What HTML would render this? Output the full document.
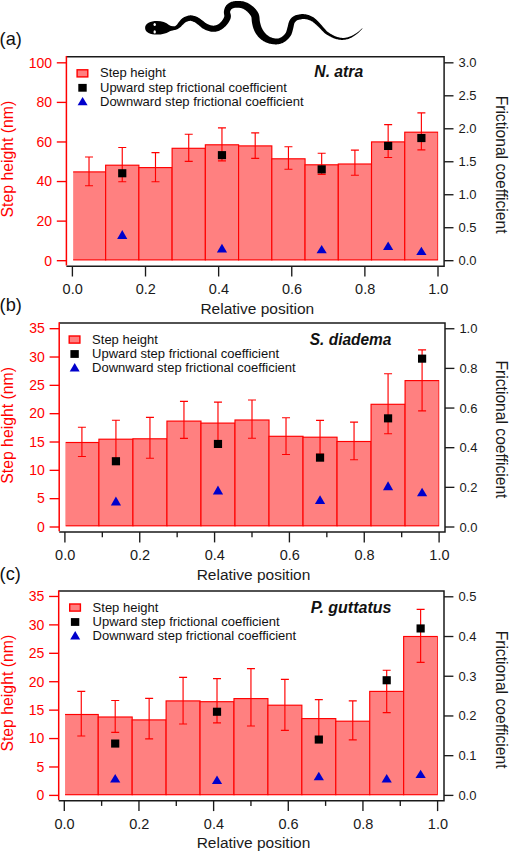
<!DOCTYPE html>
<html lang="en"><head><meta charset="utf-8"><title>Step height and frictional coefficient</title>
<style>html,body{margin:0;padding:0;background:#fff}svg{display:block}text{font-family:'Liberation Sans', sans-serif}</style>
</head><body>
<svg width="509" height="852" viewBox="0 0 509 852">
<rect width="509" height="852" fill="#fff"/>
<g id="snake">
<path d="M166.99 31.6 L167.17 31.54 L167.4 31.47 L167.68 31.38 L167.99 31.29 L168.33 31.18 L168.69 31.07 L169.05 30.97 L169.4 30.87 L169.73 30.78 L170.04 30.7 L170.31 30.63 L170.57 30.57 L170.83 30.52 L171.08 30.47 L171.33 30.42 L171.58 30.37 L171.83 30.33 L172.09 30.28 L172.36 30.24 L172.61 30.2 L172.85 30.16 L173.09 30.13 L173.38 30.11 L173.69 30.09 L174.04 30.07 L174.41 30.04 L174.81 30 L175.24 29.93 L175.69 29.82 L176.13 29.68 L176.56 29.52 L176.96 29.35 L177.36 29.16 L177.74 28.95 L178.12 28.74 L178.5 28.52 L178.86 28.29 L179.21 28.06 L179.55 27.82 L179.9 27.57 L180.25 27.28 L180.59 26.98 L180.9 26.68 L181.19 26.39 L181.47 26.11 L181.72 25.84 L181.97 25.59 L182.22 25.34 L182.46 25.11 L182.74 24.85 L183.08 24.52 L183.43 24.17 L183.76 23.83 L184.07 23.51 L184.37 23.21 L184.66 22.94 L184.94 22.7 L185.21 22.5 L185.48 22.32 L185.78 22.16 L186.16 21.98 L186.62 21.78 L187.1 21.58 L187.6 21.4 L188.11 21.23 L188.61 21.09 L189.1 20.98 L189.57 20.9 L189.98 20.86 L190.35 20.85 L190.69 20.87 L191.07 20.93 L191.48 21.02 L191.93 21.15 L192.39 21.3 L192.86 21.47 L193.35 21.67 L193.84 21.89 L194.32 22.11 L194.77 22.33 L195.14 22.52 L195.47 22.72 L195.8 22.93 L196.13 23.17 L196.48 23.44 L196.86 23.73 L197.25 24.05 L197.68 24.39 L198.15 24.76 L198.62 25.11 L199.03 25.44 L199.44 25.78 L199.88 26.16 L200.36 26.57 L200.87 27.01 L201.42 27.47 L202.01 27.94 L202.65 28.4 L203.35 28.84 L204.07 29.25 L204.78 29.6 L205.5 29.94 L206.25 30.25 L207.02 30.55 L207.81 30.83 L208.61 31.09 L209.42 31.32 L210.23 31.51 L211.05 31.67 L211.88 31.78 L212.69 31.84 L213.49 31.85 L214.27 31.82 L215.03 31.74 L215.77 31.63 L216.48 31.49 L217.18 31.32 L217.84 31.13 L218.48 30.92 L219.12 30.69 L219.77 30.42 L220.41 30.11 L221.02 29.78 L221.6 29.43 L222.16 29.05 L222.69 28.67 L223.19 28.28 L223.68 27.88 L224.14 27.49 L224.6 27.08 L225.08 26.64 L225.55 26.16 L226.01 25.68 L226.45 25.18 L226.88 24.68 L227.29 24.18 L227.68 23.67 L228.05 23.17 L228.4 22.67 L228.72 22.18 L229.01 21.72 L229.29 21.27 L229.56 20.79 L229.82 20.31 L230.07 19.79 L230.29 19.26 L230.49 18.7 L230.66 18.11 L230.79 17.5 L230.89 16.81 L230.91 16 L230.84 15.22 L230.71 14.54 L230.56 13.95 L230.42 13.44 L230.29 13 L230.19 12.64 L230.12 12.37 L230.09 12.2 L230.09 12.07 L230.12 11.84 L230.18 11.53 L230.26 11.22 L230.35 10.93 L230.46 10.65 L230.58 10.39 L230.7 10.15 L230.83 9.94 L230.96 9.76 L231.1 9.6 L231.25 9.43 L231.44 9.26 L231.64 9.09 L231.85 8.93 L232.08 8.78 L232.34 8.63 L232.61 8.49 L232.9 8.36 L233.2 8.24 L233.53 8.14 L233.88 8.04 L234.3 7.95 L234.76 7.87 L235.26 7.79 L235.79 7.74 L236.33 7.69 L236.88 7.67 L237.43 7.66 L237.96 7.67 L238.46 7.7 L238.95 7.74 L239.45 7.8 L239.95 7.88 L240.44 7.98 L240.93 8.09 L241.41 8.21 L241.88 8.35 L242.33 8.51 L242.76 8.67 L243.17 8.84 L243.55 9.03 L243.93 9.24 L244.33 9.47 L244.73 9.73 L245.14 10.01 L245.55 10.31 L245.96 10.62 L246.37 10.94 L246.76 11.26 L247.13 11.57 L247.46 11.86 L247.77 12.15 L248.06 12.44 L248.34 12.74 L248.62 13.04 L248.88 13.35 L249.14 13.66 L249.39 13.97 L249.63 14.29 L249.88 14.62 L250.13 14.97 L250.37 15.29 L250.57 15.58 L250.75 15.83 L250.89 16.06 L251.01 16.27 L251.11 16.47 L251.2 16.68 L251.29 16.9 L251.36 17.12 L251.42 17.35 L251.47 17.64 L251.52 18.03 L251.56 18.51 L251.6 19.05 L251.64 19.65 L251.69 20.31 L251.75 21.01 L251.84 21.76 L251.96 22.49 L252.08 23.15 L252.2 23.77 L252.33 24.41 L252.47 25.06 L252.62 25.72 L252.79 26.39 L252.98 27.07 L253.18 27.76 L253.41 28.44 L253.66 29.12 L253.92 29.77 L254.19 30.4 L254.48 31.02 L254.78 31.65 L255.11 32.27 L255.45 32.89 L255.81 33.5 L256.2 34.11 L256.61 34.7 L257.04 35.28 L257.48 35.84 L257.94 36.39 L258.42 36.93 L258.92 37.46 L259.44 37.99 L259.98 38.5 L260.54 38.99 L261.12 39.47 L261.72 39.93 L262.33 40.37 L262.94 40.77 L263.57 41.15 L264.21 41.51 L264.86 41.85 L265.52 42.17 L266.2 42.46 L266.88 42.74 L267.58 42.99 L268.28 43.22 L268.99 43.44 L269.72 43.63 L270.47 43.8 L271.23 43.95 L272 44.08 L272.77 44.19 L273.54 44.28 L274.31 44.35 L275.06 44.39 L275.8 44.41 L276.53 44.4 L277.24 44.36 L277.93 44.29 L278.6 44.19 L279.25 44.06 L279.87 43.91 L280.48 43.74 L281.05 43.55 L281.61 43.34 L282.14 43.13 L282.67 42.9 L283.22 42.64 L283.76 42.35 L284.29 42.04 L284.79 41.72 L285.28 41.38 L285.74 41.03 L286.19 40.68 L286.63 40.31 L287.05 39.95 L287.45 39.58 L287.84 39.21 L288.23 38.84 L288.62 38.44 L289.01 38.02 L289.4 37.58 L289.78 37.11 L290.16 36.61 L290.52 36.07 L290.87 35.5 L291.2 34.89 L291.51 34.22 L291.77 33.55 L292.01 32.87 L292.21 32.2 L292.4 31.54 L292.57 30.89 L292.73 30.25 L292.89 29.64 L293.04 29.05 L293.2 28.46 L293.37 27.8 L293.52 27.11 L293.65 26.44 L293.77 25.81 L293.89 25.22 L294 24.67 L294.12 24.17 L294.23 23.75 L294.35 23.4 L294.48 23.1 L294.64 22.79 L294.83 22.47 L295.03 22.18 L295.24 21.89 L295.47 21.63 L295.71 21.38 L295.96 21.14 L296.23 20.91 L296.52 20.7 L296.79 20.51 L297.06 20.37 L297.38 20.22 L297.77 20.08 L298.22 19.95 L298.7 19.82 L299.2 19.7 L299.71 19.6 L300.22 19.5 L300.71 19.4 L301.16 19.31 L301.54 19.23 L301.83 19.17 L302.08 19.12 L302.28 19.09 L302.46 19.07 L302.64 19.05 L302.83 19.04 L303.05 19.03 L303.32 19.04 L303.63 19.04 L303.98 19.06 L304.34 19.07 L304.7 19.1 L305.07 19.12 L305.45 19.16 L305.82 19.21 L306.2 19.26 L306.57 19.33 L306.94 19.4 L307.32 19.5 L307.72 19.61 L308.14 19.74 L308.59 19.89 L309.03 20.04 L309.49 20.22 L309.93 20.4 L310.38 20.59 L310.81 20.78 L311.22 20.99 L311.6 21.19 L311.96 21.4 L312.32 21.62 L312.67 21.86 L313.02 22.11 L313.38 22.39 L313.74 22.67 L314.1 22.97 L314.47 23.27 L314.84 23.59 L315.22 23.9 L315.58 24.21 L315.93 24.51 L316.29 24.83 L316.64 25.14 L316.99 25.47 L317.34 25.8 L317.7 26.14 L318.05 26.48 L318.41 26.82 L318.77 27.17 L319.12 27.52 L319.46 27.87 L319.81 28.23 L320.16 28.6 L320.52 28.97 L320.88 29.36 L321.25 29.74 L321.62 30.13 L322.01 30.51 L322.39 30.88 L322.75 31.23 L323.09 31.57 L323.43 31.91 L323.78 32.27 L324.16 32.64 L324.56 33.01 L325.01 33.4 L325.49 33.78 L326.03 34.17 L326.62 34.56 L327.26 34.96 L327.95 35.36 L328.69 35.78 L329.46 36.2 L330.27 36.62 L331.09 37.03 L331.93 37.42 L332.76 37.79 L333.58 38.13 L334.37 38.42 L335.14 38.68 L335.91 38.92 L336.67 39.13 L337.44 39.33 L338.2 39.5 L338.97 39.64 L339.75 39.75 L340.52 39.84 L341.3 39.89 L342.08 39.9 L342.85 39.88 L343.63 39.83 L344.4 39.75 L345.18 39.64 L345.95 39.51 L346.72 39.34 L347.49 39.14 L348.26 38.9 L349.02 38.64 L349.78 38.35 L350.55 38.01 L351.33 37.64 L352.1 37.22 L352.88 36.78 L353.64 36.31 L354.4 35.82 L355.13 35.32 L355.85 34.81 L356.54 34.31 L357.19 33.8 L357.85 33.27 L358.5 32.68 L359.15 32.06 L359.77 31.43 L360.37 30.81 L360.94 30.21 L361.45 29.65 L361.91 29.15 L362.29 28.73 L362.6 28.41 L362.4 28.19 L362.06 28.48 L361.63 28.87 L361.13 29.32 L360.56 29.83 L359.95 30.37 L359.3 30.93 L358.63 31.49 L357.95 32.03 L357.27 32.54 L356.61 33 L355.93 33.43 L355.22 33.87 L354.49 34.32 L353.74 34.75 L352.98 35.17 L352.21 35.57 L351.45 35.94 L350.69 36.28 L349.95 36.59 L349.22 36.85 L348.5 37.08 L347.78 37.28 L347.06 37.45 L346.35 37.6 L345.64 37.72 L344.93 37.81 L344.22 37.88 L343.52 37.91 L342.82 37.92 L342.12 37.9 L341.43 37.85 L340.75 37.77 L340.07 37.66 L339.38 37.52 L338.7 37.35 L338.01 37.16 L337.32 36.95 L336.62 36.71 L335.92 36.45 L335.23 36.18 L334.52 35.88 L333.78 35.53 L333.03 35.15 L332.26 34.75 L331.5 34.33 L330.76 33.89 L330.04 33.46 L329.37 33.03 L328.74 32.62 L328.18 32.24 L327.7 31.88 L327.28 31.54 L326.91 31.21 L326.57 30.88 L326.25 30.55 L325.94 30.21 L325.63 29.86 L325.31 29.49 L324.97 29.1 L324.61 28.72 L324.26 28.34 L323.93 27.97 L323.6 27.59 L323.27 27.2 L322.93 26.81 L322.6 26.42 L322.27 26.02 L321.92 25.62 L321.58 25.22 L321.23 24.83 L320.89 24.45 L320.56 24.07 L320.22 23.7 L319.89 23.32 L319.55 22.94 L319.21 22.57 L318.86 22.2 L318.5 21.83 L318.14 21.46 L317.78 21.1 L317.43 20.75 L317.08 20.4 L316.72 20.05 L316.35 19.7 L315.97 19.34 L315.57 18.98 L315.16 18.63 L314.73 18.28 L314.27 17.94 L313.8 17.61 L313.31 17.3 L312.81 17 L312.3 16.72 L311.79 16.44 L311.26 16.18 L310.74 15.94 L310.22 15.71 L309.7 15.49 L309.19 15.29 L308.68 15.1 L308.17 14.93 L307.65 14.79 L307.14 14.66 L306.64 14.55 L306.15 14.45 L305.68 14.37 L305.22 14.3 L304.78 14.25 L304.36 14.2 L303.97 14.16 L303.59 14.12 L303.23 14.09 L302.88 14.07 L302.52 14.06 L302.16 14.07 L301.8 14.09 L301.42 14.12 L301.04 14.17 L300.64 14.23 L300.24 14.29 L299.8 14.36 L299.32 14.44 L298.77 14.53 L298.18 14.63 L297.55 14.75 L296.9 14.9 L296.23 15.08 L295.55 15.3 L294.87 15.57 L294.21 15.89 L293.63 16.22 L293.09 16.57 L292.57 16.96 L292.06 17.37 L291.58 17.81 L291.12 18.28 L290.68 18.79 L290.27 19.32 L289.89 19.88 L289.52 20.5 L289.18 21.2 L288.89 21.92 L288.66 22.63 L288.46 23.32 L288.3 24 L288.15 24.65 L288.02 25.27 L287.88 25.86 L287.75 26.4 L287.6 26.94 L287.43 27.54 L287.26 28.19 L287.1 28.82 L286.94 29.43 L286.79 30.01 L286.63 30.57 L286.48 31.08 L286.32 31.55 L286.16 31.96 L286 32.31 L285.82 32.65 L285.63 32.98 L285.43 33.3 L285.21 33.61 L284.98 33.91 L284.73 34.21 L284.46 34.51 L284.17 34.81 L283.87 35.12 L283.55 35.42 L283.23 35.72 L282.92 36 L282.6 36.27 L282.28 36.52 L281.96 36.76 L281.64 36.98 L281.32 37.19 L280.99 37.37 L280.67 37.54 L280.33 37.7 L279.95 37.86 L279.57 38.02 L279.19 38.15 L278.81 38.27 L278.44 38.38 L278.06 38.47 L277.68 38.53 L277.29 38.58 L276.89 38.6 L276.47 38.6 L276.01 38.57 L275.5 38.52 L274.95 38.44 L274.38 38.34 L273.79 38.22 L273.2 38.08 L272.62 37.92 L272.05 37.74 L271.51 37.56 L271.01 37.36 L270.53 37.16 L270.06 36.93 L269.6 36.69 L269.14 36.43 L268.7 36.16 L268.27 35.87 L267.85 35.58 L267.45 35.27 L267.05 34.95 L266.67 34.63 L266.31 34.3 L265.96 33.96 L265.61 33.59 L265.26 33.21 L264.92 32.81 L264.59 32.41 L264.27 31.99 L263.95 31.56 L263.65 31.14 L263.36 30.72 L263.1 30.31 L262.85 29.9 L262.6 29.47 L262.37 29.04 L262.14 28.6 L261.93 28.15 L261.72 27.69 L261.51 27.23 L261.32 26.75 L261.14 26.28 L260.98 25.82 L260.83 25.36 L260.68 24.87 L260.55 24.37 L260.41 23.84 L260.29 23.31 L260.17 22.76 L260.05 22.2 L259.94 21.63 L259.84 21.11 L259.77 20.65 L259.71 20.19 L259.67 19.67 L259.63 19.1 L259.59 18.49 L259.54 17.84 L259.47 17.15 L259.38 16.42 L259.24 15.65 L259.04 14.88 L258.8 14.18 L258.55 13.54 L258.27 12.94 L257.97 12.38 L257.66 11.86 L257.35 11.38 L257.03 10.95 L256.72 10.54 L256.42 10.16 L256.12 9.78 L255.79 9.37 L255.42 8.95 L255.05 8.52 L254.65 8.1 L254.23 7.67 L253.8 7.25 L253.34 6.83 L252.87 6.42 L252.37 6.01 L251.87 5.63 L251.37 5.26 L250.85 4.9 L250.31 4.53 L249.75 4.16 L249.16 3.79 L248.54 3.43 L247.9 3.08 L247.23 2.74 L246.54 2.43 L245.83 2.16 L245.13 1.92 L244.43 1.71 L243.73 1.53 L243.02 1.37 L242.31 1.24 L241.59 1.13 L240.88 1.04 L240.16 0.97 L239.45 0.93 L238.74 0.9 L238.02 0.9 L237.29 0.92 L236.55 0.95 L235.8 1.01 L235.06 1.09 L234.32 1.19 L233.59 1.32 L232.87 1.47 L232.16 1.65 L231.47 1.86 L230.82 2.11 L230.19 2.38 L229.59 2.69 L229.01 3.02 L228.45 3.39 L227.93 3.78 L227.43 4.19 L226.96 4.63 L226.52 5.1 L226.1 5.6 L225.71 6.14 L225.36 6.72 L225.06 7.3 L224.8 7.9 L224.58 8.49 L224.39 9.09 L224.23 9.68 L224.11 10.28 L224 10.87 L223.91 11.53 L223.87 12.3 L223.91 13.07 L223.99 13.75 L224.09 14.36 L224.18 14.89 L224.26 15.34 L224.31 15.71 L224.33 15.97 L224.33 16.11 L224.31 16.19 L224.29 16.35 L224.24 16.57 L224.19 16.79 L224.13 17.01 L224.04 17.26 L223.94 17.52 L223.81 17.81 L223.66 18.12 L223.48 18.46 L223.28 18.82 L223.06 19.18 L222.82 19.56 L222.56 19.95 L222.28 20.35 L221.98 20.74 L221.67 21.14 L221.36 21.51 L221.04 21.87 L220.72 22.21 L220.4 22.52 L220.05 22.84 L219.69 23.15 L219.34 23.44 L218.98 23.72 L218.63 23.97 L218.28 24.2 L217.93 24.41 L217.59 24.6 L217.25 24.76 L216.88 24.91 L216.47 25.06 L216.03 25.2 L215.59 25.32 L215.15 25.43 L214.7 25.52 L214.26 25.59 L213.82 25.63 L213.39 25.65 L212.95 25.65 L212.52 25.62 L212.06 25.55 L211.55 25.45 L211 25.32 L210.41 25.15 L209.81 24.95 L209.2 24.73 L208.59 24.5 L208 24.25 L207.44 23.99 L206.93 23.75 L206.5 23.52 L206.08 23.26 L205.65 22.97 L205.2 22.64 L204.74 22.29 L204.27 21.9 L203.77 21.5 L203.26 21.09 L202.72 20.67 L202.18 20.29 L201.72 19.96 L201.31 19.66 L200.88 19.34 L200.45 19.02 L199.99 18.69 L199.51 18.35 L198.99 18.01 L198.44 17.68 L197.84 17.36 L197.23 17.07 L196.65 16.83 L196.05 16.59 L195.43 16.35 L194.77 16.12 L194.09 15.9 L193.37 15.71 L192.63 15.55 L191.86 15.43 L191.07 15.36 L190.25 15.35 L189.44 15.41 L188.65 15.54 L187.89 15.71 L187.14 15.91 L186.42 16.15 L185.72 16.42 L185.05 16.7 L184.41 17 L183.81 17.31 L183.22 17.64 L182.63 18.02 L182.06 18.45 L181.56 18.89 L181.12 19.33 L180.72 19.76 L180.37 20.18 L180.05 20.57 L179.77 20.93 L179.51 21.24 L179.26 21.55 L178.96 21.9 L178.67 22.27 L178.41 22.62 L178.18 22.95 L177.97 23.25 L177.78 23.53 L177.61 23.79 L177.44 24.02 L177.28 24.23 L177.1 24.43 L176.89 24.66 L176.65 24.9 L176.42 25.13 L176.18 25.36 L175.94 25.57 L175.7 25.77 L175.48 25.94 L175.25 26.1 L175.05 26.22 L174.87 26.32 L174.71 26.37 L174.54 26.42 L174.35 26.45 L174.14 26.46 L173.9 26.46 L173.64 26.46 L173.35 26.44 L173.04 26.43 L172.71 26.41 L172.39 26.4 L172.11 26.4 L171.86 26.38 L171.63 26.37 L171.4 26.35 L171.17 26.32 L170.95 26.29 L170.72 26.25 L170.47 26.21 L170.22 26.16 L169.96 26.1 L169.68 26.03 L169.37 25.94 L169.04 25.85 L168.7 25.74 L168.35 25.63 L168.02 25.52 L167.71 25.42 L167.43 25.33 L167.19 25.26 L167.01 25.2Z" fill="#000"/>
<path d="M145.1 28C145.1 23.6 150.4 21.1 157 21.1C162 21.1 166 22.6 169 24.9C171 26.2 172.6 26.6 174.6 26.6L174.6 30C172.6 30.2 171 30.7 169 31.7C166 33.4 162 34.6 157 34.6C150.4 34.6 145.1 32.4 145.1 28Z" fill="#000"/>
<ellipse cx="154.7" cy="24.5" rx="1.2" ry="1.55" fill="#fff"/>
<ellipse cx="154.7" cy="31.9" rx="1.2" ry="1.55" fill="#fff"/>
</g>
<g>
<clipPath id="clipa"><rect x="73.15" y="56.7" width="365.05" height="209.5"/></clipPath>
<g clip-path="url(#clipa)">
<rect x="72.4" y="171.9" width="33.24" height="88" fill="#ff8080" stroke="#ff0000" stroke-width="1.15"/>
<rect x="105.64" y="165.2" width="33.24" height="94.7" fill="#ff8080" stroke="#ff0000" stroke-width="1.15"/>
<rect x="138.87" y="167.6" width="33.24" height="92.3" fill="#ff8080" stroke="#ff0000" stroke-width="1.15"/>
<rect x="172.11" y="148.3" width="33.24" height="111.6" fill="#ff8080" stroke="#ff0000" stroke-width="1.15"/>
<rect x="205.35" y="144.8" width="33.24" height="115.1" fill="#ff8080" stroke="#ff0000" stroke-width="1.15"/>
<rect x="238.58" y="145.9" width="33.24" height="114" fill="#ff8080" stroke="#ff0000" stroke-width="1.15"/>
<rect x="271.82" y="158.8" width="33.24" height="101.1" fill="#ff8080" stroke="#ff0000" stroke-width="1.15"/>
<rect x="305.05" y="164.8" width="33.24" height="95.1" fill="#ff8080" stroke="#ff0000" stroke-width="1.15"/>
<rect x="338.29" y="164" width="33.24" height="95.9" fill="#ff8080" stroke="#ff0000" stroke-width="1.15"/>
<rect x="371.53" y="141.9" width="33.24" height="118" fill="#ff8080" stroke="#ff0000" stroke-width="1.15"/>
<rect x="404.76" y="132.2" width="33.24" height="127.7" fill="#ff8080" stroke="#ff0000" stroke-width="1.15"/>
</g>
<path d="M89.02 157V185.7M85.02 157H93.02M85.02 185.7H93.02" fill="none" stroke="#ff0000" stroke-width="1.15"/>
<path d="M122.25 147.5V181.7M118.25 147.5H126.25M118.25 181.7H126.25" fill="none" stroke="#ff0000" stroke-width="1.15"/>
<path d="M155.49 152.6V181.7M151.49 152.6H159.49M151.49 181.7H159.49" fill="none" stroke="#ff0000" stroke-width="1.15"/>
<path d="M188.73 134.2V161.3M184.73 134.2H192.73M184.73 161.3H192.73" fill="none" stroke="#ff0000" stroke-width="1.15"/>
<path d="M221.96 127.9V160.9M217.96 127.9H225.96M217.96 160.9H225.96" fill="none" stroke="#ff0000" stroke-width="1.15"/>
<path d="M255.2 132.8V158.4M251.2 132.8H259.2M251.2 158.4H259.2" fill="none" stroke="#ff0000" stroke-width="1.15"/>
<path d="M288.44 146.7V169.2M284.44 146.7H292.44M284.44 169.2H292.44" fill="none" stroke="#ff0000" stroke-width="1.15"/>
<path d="M321.67 153.2V174.3M317.67 153.2H325.67M317.67 174.3H325.67" fill="none" stroke="#ff0000" stroke-width="1.15"/>
<path d="M354.91 150.1V175.2M350.91 150.1H358.91M350.91 175.2H358.91" fill="none" stroke="#ff0000" stroke-width="1.15"/>
<path d="M388.15 124.6V157.5M384.15 124.6H392.15M384.15 157.5H392.15" fill="none" stroke="#ff0000" stroke-width="1.15"/>
<path d="M421.38 112.8V149.8M417.38 112.8H425.38M417.38 149.8H425.38" fill="none" stroke="#ff0000" stroke-width="1.15"/>
<path d="M122.25 230L127.35 239L117.15 239Z" fill="#0000cc"/>
<path d="M221.96 243.8L227.06 252.5L216.86 252.5Z" fill="#0000cc"/>
<path d="M321.67 244.9L326.77 253.2L316.57 253.2Z" fill="#0000cc"/>
<path d="M388.15 241.4L393.25 249.9L383.05 249.9Z" fill="#0000cc"/>
<path d="M421.38 246.8L426.48 255.1L416.28 255.1Z" fill="#0000cc"/>
<rect x="118.15" y="169.2" width="8.2" height="8.1" fill="#000"/>
<rect x="217.86" y="151.1" width="8.2" height="8.1" fill="#000"/>
<rect x="317.57" y="165.3" width="8.2" height="8.1" fill="#000"/>
<rect x="384.05" y="141.9" width="8.2" height="8.1" fill="#000"/>
<rect x="417.28" y="134" width="8.2" height="8.1" fill="#000"/>
<path d="M66.4 56.7H444.1V266.2H66.4" fill="none" stroke="#1a1a1a" stroke-width="1.5" stroke-linejoin="miter"/>
<path d="M66.4 55.95V265.45" fill="none" stroke="#ff0000" stroke-width="1.5"/>
<path d="M56.8 260.7H66.4" stroke="#ff0000" stroke-width="1.35"/>
<text x="52" y="265.5" text-anchor="end" font-size="14" fill="#ff0000">0</text>
<path d="M56.8 221.12H66.4" stroke="#ff0000" stroke-width="1.35"/>
<text x="52" y="225.93" text-anchor="end" font-size="14" fill="#ff0000">20</text>
<path d="M56.8 181.55H66.4" stroke="#ff0000" stroke-width="1.35"/>
<text x="52" y="186.35" text-anchor="end" font-size="14" fill="#ff0000">40</text>
<path d="M56.8 141.97H66.4" stroke="#ff0000" stroke-width="1.35"/>
<text x="52" y="146.77" text-anchor="end" font-size="14" fill="#ff0000">60</text>
<path d="M56.8 102.4H66.4" stroke="#ff0000" stroke-width="1.35"/>
<text x="52" y="107.2" text-anchor="end" font-size="14" fill="#ff0000">80</text>
<path d="M56.8 62.82H66.4" stroke="#ff0000" stroke-width="1.35"/>
<text x="52" y="67.62" text-anchor="end" font-size="14" fill="#ff0000">100</text>
<path d="M444.1 260.7H453.5" stroke="#1a1a1a" stroke-width="1.35"/>
<text x="458.5" y="265.2" font-size="13" fill="#1a1a1a">0.0</text>
<path d="M444.1 227.72H453.5" stroke="#1a1a1a" stroke-width="1.35"/>
<text x="458.5" y="232.22" font-size="13" fill="#1a1a1a">0.5</text>
<path d="M444.1 194.74H453.5" stroke="#1a1a1a" stroke-width="1.35"/>
<text x="458.5" y="199.24" font-size="13" fill="#1a1a1a">1.0</text>
<path d="M444.1 161.76H453.5" stroke="#1a1a1a" stroke-width="1.35"/>
<text x="458.5" y="166.26" font-size="13" fill="#1a1a1a">1.5</text>
<path d="M444.1 128.78H453.5" stroke="#1a1a1a" stroke-width="1.35"/>
<text x="458.5" y="133.28" font-size="13" fill="#1a1a1a">2.0</text>
<path d="M444.1 95.8H453.5" stroke="#1a1a1a" stroke-width="1.35"/>
<text x="458.5" y="100.3" font-size="13" fill="#1a1a1a">2.5</text>
<path d="M444.1 62.82H453.5" stroke="#1a1a1a" stroke-width="1.35"/>
<text x="458.5" y="67.32" font-size="13" fill="#1a1a1a">3.0</text>
<path d="M72.4 266.2V276.5" stroke="#1a1a1a" stroke-width="1.35"/>
<text x="72.7" y="294.2" text-anchor="middle" font-size="14.5" fill="#1a1a1a">0.0</text>
<path d="M145.52 266.2V276.5" stroke="#1a1a1a" stroke-width="1.35"/>
<text x="145.82" y="294.2" text-anchor="middle" font-size="14.5" fill="#1a1a1a">0.2</text>
<path d="M218.64 266.2V276.5" stroke="#1a1a1a" stroke-width="1.35"/>
<text x="218.94" y="294.2" text-anchor="middle" font-size="14.5" fill="#1a1a1a">0.4</text>
<path d="M291.76 266.2V276.5" stroke="#1a1a1a" stroke-width="1.35"/>
<text x="292.06" y="294.2" text-anchor="middle" font-size="14.5" fill="#1a1a1a">0.6</text>
<path d="M364.88 266.2V276.5" stroke="#1a1a1a" stroke-width="1.35"/>
<text x="365.18" y="294.2" text-anchor="middle" font-size="14.5" fill="#1a1a1a">0.8</text>
<path d="M438 266.2V276.5" stroke="#1a1a1a" stroke-width="1.35"/>
<text x="438.3" y="294.2" text-anchor="middle" font-size="14.5" fill="#1a1a1a">1.0</text>
<rect x="77.1" y="69.8" width="10.7" height="7.1" fill="#ff8080" stroke="#ff0000" stroke-width="1.4"/>
<rect x="78.3" y="83.9" width="8.4" height="7.8" fill="#000"/>
<path d="M82.6 96.9L87.6 105.2L77.6 105.2Z" fill="#0000cc"/>
<text x="100" y="77.4" font-size="13" fill="#111">Step height</text>
<text x="100" y="91.7" font-size="13" fill="#111">Upward step frictional coefficient</text>
<text x="100" y="106" font-size="13" fill="#111">Downward step frictional coefficient</text>
<text x="314.3" y="77.4" font-size="15.8" font-weight="bold" font-style="italic" fill="#111" textLength="48.9" lengthAdjust="spacingAndGlyphs">N. atra</text>
<text transform="translate(12.7 159.1) rotate(-90)" text-anchor="middle" font-size="15.8" fill="#ff0000">Step height (nm)</text>
<text transform="translate(496.2 164.6) rotate(90)" text-anchor="middle" font-size="15.65" fill="#1a1a1a">Frictional coefficient</text>
<text x="-0.4" y="45.4" font-size="18.2" fill="#111">(a)</text>
</g>
<g>
<clipPath id="clipb"><rect x="65.65" y="322.9" width="373.65" height="209.2"/></clipPath>
<g clip-path="url(#clipb)">
<rect x="64.9" y="442.5" width="34.02" height="83.3" fill="#ff8080" stroke="#ff0000" stroke-width="1.15"/>
<rect x="98.92" y="439.2" width="34.02" height="86.6" fill="#ff8080" stroke="#ff0000" stroke-width="1.15"/>
<rect x="132.94" y="438.8" width="34.02" height="87" fill="#ff8080" stroke="#ff0000" stroke-width="1.15"/>
<rect x="166.95" y="421.1" width="34.02" height="104.7" fill="#ff8080" stroke="#ff0000" stroke-width="1.15"/>
<rect x="200.97" y="423.1" width="34.02" height="102.7" fill="#ff8080" stroke="#ff0000" stroke-width="1.15"/>
<rect x="234.99" y="420" width="34.02" height="105.8" fill="#ff8080" stroke="#ff0000" stroke-width="1.15"/>
<rect x="269.01" y="436.3" width="34.02" height="89.5" fill="#ff8080" stroke="#ff0000" stroke-width="1.15"/>
<rect x="303.03" y="437.2" width="34.02" height="88.6" fill="#ff8080" stroke="#ff0000" stroke-width="1.15"/>
<rect x="337.05" y="441.5" width="34.02" height="84.3" fill="#ff8080" stroke="#ff0000" stroke-width="1.15"/>
<rect x="371.06" y="404.3" width="34.02" height="121.5" fill="#ff8080" stroke="#ff0000" stroke-width="1.15"/>
<rect x="405.08" y="380.6" width="34.02" height="145.2" fill="#ff8080" stroke="#ff0000" stroke-width="1.15"/>
</g>
<path d="M81.91 427.2V456.5M77.91 427.2H85.91M77.91 456.5H85.91" fill="none" stroke="#ff0000" stroke-width="1.15"/>
<path d="M115.93 420.2V458.2M111.93 420.2H119.93M111.93 458.2H119.93" fill="none" stroke="#ff0000" stroke-width="1.15"/>
<path d="M149.95 417.3V458.2M145.95 417.3H153.95M145.95 458.2H153.95" fill="none" stroke="#ff0000" stroke-width="1.15"/>
<path d="M183.96 401.3V438.4M179.96 401.3H187.96M179.96 438.4H187.96" fill="none" stroke="#ff0000" stroke-width="1.15"/>
<path d="M217.98 402.1V444.6M213.98 402.1H221.98M213.98 444.6H221.98" fill="none" stroke="#ff0000" stroke-width="1.15"/>
<path d="M252 400V438.2M248 400H256M248 438.2H256" fill="none" stroke="#ff0000" stroke-width="1.15"/>
<path d="M286.02 417.7V454.5M282.02 417.7H290.02M282.02 454.5H290.02" fill="none" stroke="#ff0000" stroke-width="1.15"/>
<path d="M320.04 420.3V454M316.04 420.3H324.04M316.04 454H324.04" fill="none" stroke="#ff0000" stroke-width="1.15"/>
<path d="M354.05 422.1V459.7M350.05 422.1H358.05M350.05 459.7H358.05" fill="none" stroke="#ff0000" stroke-width="1.15"/>
<path d="M388.07 373.7V433.7M384.07 373.7H392.07M384.07 433.7H392.07" fill="none" stroke="#ff0000" stroke-width="1.15"/>
<path d="M422.09 349.9V410.8M418.09 349.9H426.09M418.09 410.8H426.09" fill="none" stroke="#ff0000" stroke-width="1.15"/>
<path d="M115.93 496.6L121.03 505.5L110.83 505.5Z" fill="#0000cc"/>
<path d="M217.98 485.4L223.08 494.4L212.88 494.4Z" fill="#0000cc"/>
<path d="M320.04 495.2L325.14 504.1L314.94 504.1Z" fill="#0000cc"/>
<path d="M388.07 481.3L393.17 490.2L382.97 490.2Z" fill="#0000cc"/>
<path d="M422.09 487.8L427.19 496.3L416.99 496.3Z" fill="#0000cc"/>
<rect x="111.83" y="457.2" width="8.2" height="8.1" fill="#000"/>
<rect x="213.88" y="439.9" width="8.2" height="8.1" fill="#000"/>
<rect x="315.94" y="453.6" width="8.2" height="8.1" fill="#000"/>
<rect x="383.97" y="414.3" width="8.2" height="8.1" fill="#000"/>
<rect x="417.99" y="354.6" width="8.2" height="8.1" fill="#000"/>
<path d="M59.2 322.9H445V532.1H59.2" fill="none" stroke="#1a1a1a" stroke-width="1.5" stroke-linejoin="miter"/>
<path d="M59.2 322.15V531.35" fill="none" stroke="#ff0000" stroke-width="1.5"/>
<path d="M49.6 527H59.2" stroke="#ff0000" stroke-width="1.35"/>
<text x="44.8" y="531.8" text-anchor="end" font-size="14" fill="#ff0000">0</text>
<path d="M49.6 498.67H59.2" stroke="#ff0000" stroke-width="1.35"/>
<text x="44.8" y="503.47" text-anchor="end" font-size="14" fill="#ff0000">5</text>
<path d="M49.6 470.34H59.2" stroke="#ff0000" stroke-width="1.35"/>
<text x="44.8" y="475.14" text-anchor="end" font-size="14" fill="#ff0000">10</text>
<path d="M49.6 442.01H59.2" stroke="#ff0000" stroke-width="1.35"/>
<text x="44.8" y="446.81" text-anchor="end" font-size="14" fill="#ff0000">15</text>
<path d="M49.6 413.68H59.2" stroke="#ff0000" stroke-width="1.35"/>
<text x="44.8" y="418.48" text-anchor="end" font-size="14" fill="#ff0000">20</text>
<path d="M49.6 385.35H59.2" stroke="#ff0000" stroke-width="1.35"/>
<text x="44.8" y="390.15" text-anchor="end" font-size="14" fill="#ff0000">25</text>
<path d="M49.6 357.02H59.2" stroke="#ff0000" stroke-width="1.35"/>
<text x="44.8" y="361.82" text-anchor="end" font-size="14" fill="#ff0000">30</text>
<path d="M49.6 328.69H59.2" stroke="#ff0000" stroke-width="1.35"/>
<text x="44.8" y="333.49" text-anchor="end" font-size="14" fill="#ff0000">35</text>
<path d="M445 527H454.4" stroke="#1a1a1a" stroke-width="1.35"/>
<text x="459.4" y="531.5" font-size="13" fill="#1a1a1a">0.0</text>
<path d="M445 487.35H454.4" stroke="#1a1a1a" stroke-width="1.35"/>
<text x="459.4" y="491.85" font-size="13" fill="#1a1a1a">0.2</text>
<path d="M445 447.7H454.4" stroke="#1a1a1a" stroke-width="1.35"/>
<text x="459.4" y="452.2" font-size="13" fill="#1a1a1a">0.4</text>
<path d="M445 408.05H454.4" stroke="#1a1a1a" stroke-width="1.35"/>
<text x="459.4" y="412.55" font-size="13" fill="#1a1a1a">0.6</text>
<path d="M445 368.4H454.4" stroke="#1a1a1a" stroke-width="1.35"/>
<text x="459.4" y="372.9" font-size="13" fill="#1a1a1a">0.8</text>
<path d="M445 328.75H454.4" stroke="#1a1a1a" stroke-width="1.35"/>
<text x="459.4" y="333.25" font-size="13" fill="#1a1a1a">1.0</text>
<path d="M64.9 532.1V542.4" stroke="#1a1a1a" stroke-width="1.35"/>
<text x="65.2" y="560.1" text-anchor="middle" font-size="14.5" fill="#1a1a1a">0.0</text>
<path d="M102.32 532.1V537.2" stroke="#1a1a1a" stroke-width="1.35"/>
<path d="M139.74 532.1V542.4" stroke="#1a1a1a" stroke-width="1.35"/>
<text x="140.04" y="560.1" text-anchor="middle" font-size="14.5" fill="#1a1a1a">0.2</text>
<path d="M177.16 532.1V537.2" stroke="#1a1a1a" stroke-width="1.35"/>
<path d="M214.58 532.1V542.4" stroke="#1a1a1a" stroke-width="1.35"/>
<text x="214.88" y="560.1" text-anchor="middle" font-size="14.5" fill="#1a1a1a">0.4</text>
<path d="M252 532.1V537.2" stroke="#1a1a1a" stroke-width="1.35"/>
<path d="M289.42 532.1V542.4" stroke="#1a1a1a" stroke-width="1.35"/>
<text x="289.72" y="560.1" text-anchor="middle" font-size="14.5" fill="#1a1a1a">0.6</text>
<path d="M326.84 532.1V537.2" stroke="#1a1a1a" stroke-width="1.35"/>
<path d="M364.26 532.1V542.4" stroke="#1a1a1a" stroke-width="1.35"/>
<text x="364.56" y="560.1" text-anchor="middle" font-size="14.5" fill="#1a1a1a">0.8</text>
<path d="M401.68 532.1V537.2" stroke="#1a1a1a" stroke-width="1.35"/>
<path d="M439.1 532.1V542.4" stroke="#1a1a1a" stroke-width="1.35"/>
<text x="439.4" y="560.1" text-anchor="middle" font-size="14.5" fill="#1a1a1a">1.0</text>
<rect x="69.2" y="336" width="10.7" height="7.1" fill="#ff8080" stroke="#ff0000" stroke-width="1.4"/>
<rect x="70.4" y="350.1" width="8.4" height="7.8" fill="#000"/>
<path d="M74.7 363.1L79.7 371.4L69.7 371.4Z" fill="#0000cc"/>
<text x="92.1" y="343.6" font-size="13" fill="#111">Step height</text>
<text x="92.1" y="357.9" font-size="13" fill="#111">Upward step frictional coefficient</text>
<text x="92.1" y="372.2" font-size="13" fill="#111">Downward step frictional coefficient</text>
<text x="309.8" y="345.2" font-size="15.8" font-weight="bold" font-style="italic" fill="#111" textLength="81.6" lengthAdjust="spacingAndGlyphs">S. diadema</text>
<text transform="translate(12.7 425.4) rotate(-90)" text-anchor="middle" font-size="15.8" fill="#ff0000">Step height (nm)</text>
<text transform="translate(496.2 429.5) rotate(90)" text-anchor="middle" font-size="15.65" fill="#1a1a1a">Frictional coefficient</text>
<text x="253.5" y="579.6" text-anchor="middle" font-size="15.5" fill="#1a1a1a">Relative position</text>
<text x="-0.4" y="310.6" font-size="18.2" fill="#111">(b)</text>
</g>
<g>
<clipPath id="clipc"><rect x="65.05" y="591.1" width="372.75" height="209.7"/></clipPath>
<g clip-path="url(#clipc)">
<rect x="64.3" y="714.5" width="33.94" height="80.2" fill="#ff8080" stroke="#ff0000" stroke-width="1.15"/>
<rect x="98.24" y="717" width="33.94" height="77.7" fill="#ff8080" stroke="#ff0000" stroke-width="1.15"/>
<rect x="132.17" y="719.9" width="33.94" height="74.8" fill="#ff8080" stroke="#ff0000" stroke-width="1.15"/>
<rect x="166.11" y="700.9" width="33.94" height="93.8" fill="#ff8080" stroke="#ff0000" stroke-width="1.15"/>
<rect x="200.05" y="701.7" width="33.94" height="93" fill="#ff8080" stroke="#ff0000" stroke-width="1.15"/>
<rect x="233.98" y="698.6" width="33.94" height="96.1" fill="#ff8080" stroke="#ff0000" stroke-width="1.15"/>
<rect x="267.92" y="705.2" width="33.94" height="89.5" fill="#ff8080" stroke="#ff0000" stroke-width="1.15"/>
<rect x="301.85" y="718.6" width="33.94" height="76.1" fill="#ff8080" stroke="#ff0000" stroke-width="1.15"/>
<rect x="335.79" y="721.2" width="33.94" height="73.5" fill="#ff8080" stroke="#ff0000" stroke-width="1.15"/>
<rect x="369.73" y="691.4" width="33.94" height="103.3" fill="#ff8080" stroke="#ff0000" stroke-width="1.15"/>
<rect x="403.66" y="636.5" width="33.94" height="158.2" fill="#ff8080" stroke="#ff0000" stroke-width="1.15"/>
</g>
<path d="M81.27 691.4V736M77.27 691.4H85.27M77.27 736H85.27" fill="none" stroke="#ff0000" stroke-width="1.15"/>
<path d="M115.2 700.5V732.3M111.2 700.5H119.2M111.2 732.3H119.2" fill="none" stroke="#ff0000" stroke-width="1.15"/>
<path d="M149.14 698.4V738.9M145.14 698.4H153.14M145.14 738.9H153.14" fill="none" stroke="#ff0000" stroke-width="1.15"/>
<path d="M183.08 677.4V724M179.08 677.4H187.08M179.08 724H187.08" fill="none" stroke="#ff0000" stroke-width="1.15"/>
<path d="M217.01 678.6V722.8M213.01 678.6H221.01M213.01 722.8H221.01" fill="none" stroke="#ff0000" stroke-width="1.15"/>
<path d="M250.95 668.6V726M246.95 668.6H254.95M246.95 726H254.95" fill="none" stroke="#ff0000" stroke-width="1.15"/>
<path d="M284.89 679.3V730.3M280.89 679.3H288.89M280.89 730.3H288.89" fill="none" stroke="#ff0000" stroke-width="1.15"/>
<path d="M318.82 699.6V737.6M314.82 699.6H322.82M314.82 737.6H322.82" fill="none" stroke="#ff0000" stroke-width="1.15"/>
<path d="M352.76 700.9V739.8M348.76 700.9H356.76M348.76 739.8H356.76" fill="none" stroke="#ff0000" stroke-width="1.15"/>
<path d="M386.7 670.2V712.6M382.7 670.2H390.7M382.7 712.6H390.7" fill="none" stroke="#ff0000" stroke-width="1.15"/>
<path d="M420.63 609.3V662.4M416.63 609.3H424.63M416.63 662.4H424.63" fill="none" stroke="#ff0000" stroke-width="1.15"/>
<path d="M115.2 774L120.3 782.5L110.1 782.5Z" fill="#0000cc"/>
<path d="M217.01 775.6L222.11 784.1L211.91 784.1Z" fill="#0000cc"/>
<path d="M318.82 771.8L323.92 780.3L313.72 780.3Z" fill="#0000cc"/>
<path d="M386.7 774L391.8 782.5L381.6 782.5Z" fill="#0000cc"/>
<path d="M420.63 769.7L425.73 778.1L415.53 778.1Z" fill="#0000cc"/>
<rect x="111.1" y="739.5" width="8.2" height="8.1" fill="#000"/>
<rect x="212.91" y="707.7" width="8.2" height="8.1" fill="#000"/>
<rect x="314.72" y="735.5" width="8.2" height="8.1" fill="#000"/>
<rect x="382.6" y="676.2" width="8.2" height="8.1" fill="#000"/>
<rect x="416.53" y="624.4" width="8.2" height="8.1" fill="#000"/>
<path d="M58.7 591.1H444V800.8H58.7" fill="none" stroke="#1a1a1a" stroke-width="1.5" stroke-linejoin="miter"/>
<path d="M58.7 590.35V800.05" fill="none" stroke="#ff0000" stroke-width="1.5"/>
<path d="M49.1 795.4H58.7" stroke="#ff0000" stroke-width="1.35"/>
<text x="44.3" y="800.2" text-anchor="end" font-size="14" fill="#ff0000">0</text>
<path d="M49.1 766.98H58.7" stroke="#ff0000" stroke-width="1.35"/>
<text x="44.3" y="771.78" text-anchor="end" font-size="14" fill="#ff0000">5</text>
<path d="M49.1 738.56H58.7" stroke="#ff0000" stroke-width="1.35"/>
<text x="44.3" y="743.36" text-anchor="end" font-size="14" fill="#ff0000">10</text>
<path d="M49.1 710.14H58.7" stroke="#ff0000" stroke-width="1.35"/>
<text x="44.3" y="714.94" text-anchor="end" font-size="14" fill="#ff0000">15</text>
<path d="M49.1 681.72H58.7" stroke="#ff0000" stroke-width="1.35"/>
<text x="44.3" y="686.52" text-anchor="end" font-size="14" fill="#ff0000">20</text>
<path d="M49.1 653.3H58.7" stroke="#ff0000" stroke-width="1.35"/>
<text x="44.3" y="658.1" text-anchor="end" font-size="14" fill="#ff0000">25</text>
<path d="M49.1 624.88H58.7" stroke="#ff0000" stroke-width="1.35"/>
<text x="44.3" y="629.68" text-anchor="end" font-size="14" fill="#ff0000">30</text>
<path d="M49.1 596.46H58.7" stroke="#ff0000" stroke-width="1.35"/>
<text x="44.3" y="601.26" text-anchor="end" font-size="14" fill="#ff0000">35</text>
<path d="M444 795.4H453.4" stroke="#1a1a1a" stroke-width="1.35"/>
<text x="458.4" y="799.9" font-size="13" fill="#1a1a1a">0.0</text>
<path d="M444 755.68H453.4" stroke="#1a1a1a" stroke-width="1.35"/>
<text x="458.4" y="760.18" font-size="13" fill="#1a1a1a">0.1</text>
<path d="M444 715.96H453.4" stroke="#1a1a1a" stroke-width="1.35"/>
<text x="458.4" y="720.46" font-size="13" fill="#1a1a1a">0.2</text>
<path d="M444 676.24H453.4" stroke="#1a1a1a" stroke-width="1.35"/>
<text x="458.4" y="680.74" font-size="13" fill="#1a1a1a">0.3</text>
<path d="M444 636.52H453.4" stroke="#1a1a1a" stroke-width="1.35"/>
<text x="458.4" y="641.02" font-size="13" fill="#1a1a1a">0.4</text>
<path d="M444 596.8H453.4" stroke="#1a1a1a" stroke-width="1.35"/>
<text x="458.4" y="601.3" font-size="13" fill="#1a1a1a">0.5</text>
<path d="M64.3 800.8V811.1" stroke="#1a1a1a" stroke-width="1.35"/>
<text x="64.6" y="829.1" text-anchor="middle" font-size="14.5" fill="#1a1a1a">0.0</text>
<path d="M101.63 800.8V805.9" stroke="#1a1a1a" stroke-width="1.35"/>
<path d="M138.96 800.8V811.1" stroke="#1a1a1a" stroke-width="1.35"/>
<text x="139.26" y="829.1" text-anchor="middle" font-size="14.5" fill="#1a1a1a">0.2</text>
<path d="M176.29 800.8V805.9" stroke="#1a1a1a" stroke-width="1.35"/>
<path d="M213.62 800.8V811.1" stroke="#1a1a1a" stroke-width="1.35"/>
<text x="213.92" y="829.1" text-anchor="middle" font-size="14.5" fill="#1a1a1a">0.4</text>
<path d="M250.95 800.8V805.9" stroke="#1a1a1a" stroke-width="1.35"/>
<path d="M288.28 800.8V811.1" stroke="#1a1a1a" stroke-width="1.35"/>
<text x="288.58" y="829.1" text-anchor="middle" font-size="14.5" fill="#1a1a1a">0.6</text>
<path d="M325.61 800.8V805.9" stroke="#1a1a1a" stroke-width="1.35"/>
<path d="M362.94 800.8V811.1" stroke="#1a1a1a" stroke-width="1.35"/>
<text x="363.24" y="829.1" text-anchor="middle" font-size="14.5" fill="#1a1a1a">0.8</text>
<path d="M400.27 800.8V805.9" stroke="#1a1a1a" stroke-width="1.35"/>
<path d="M437.6 800.8V811.1" stroke="#1a1a1a" stroke-width="1.35"/>
<text x="437.9" y="829.1" text-anchor="middle" font-size="14.5" fill="#1a1a1a">1.0</text>
<rect x="69.7" y="604" width="10.7" height="7.1" fill="#ff8080" stroke="#ff0000" stroke-width="1.4"/>
<rect x="70.9" y="618.1" width="8.4" height="7.8" fill="#000"/>
<path d="M75.2 631.1L80.2 639.4L70.2 639.4Z" fill="#0000cc"/>
<text x="92.6" y="611.6" font-size="13" fill="#111">Step height</text>
<text x="92.6" y="625.9" font-size="13" fill="#111">Upward step frictional coefficient</text>
<text x="92.6" y="640.2" font-size="13" fill="#111">Downward step frictional coefficient</text>
<text x="310.8" y="613.4" font-size="15.8" font-weight="bold" font-style="italic" fill="#111" textLength="80.6" lengthAdjust="spacingAndGlyphs">P. guttatus</text>
<text transform="translate(12.7 693.2) rotate(-90)" text-anchor="middle" font-size="15.8" fill="#ff0000">Step height (nm)</text>
<text transform="translate(496.2 699.6) rotate(90)" text-anchor="middle" font-size="15.65" fill="#1a1a1a">Frictional coefficient</text>
<text x="253.5" y="847.8" text-anchor="middle" font-size="15.5" fill="#1a1a1a">Relative position</text>
<text x="-0.4" y="580" font-size="18.2" fill="#111">(c)</text>
</g>
<text x="257.3" y="314" text-anchor="middle" font-size="15.5" fill="#1a1a1a">Relative position</text>
</svg>
</body></html>
